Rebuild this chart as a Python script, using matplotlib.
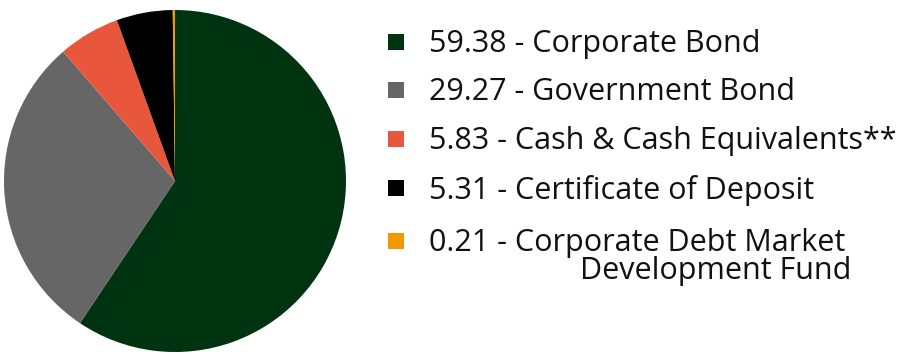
import matplotlib.pyplot as plt
from matplotlib.patches import Rectangle

# Data
labels = ["Corporate Bond", "Government Bond", "Cash & Cash Equivalents**",
          "Certificate of Deposit", "Corporate Debt Market\nDevelopment Fund"]
values = [59.38, 29.27, 5.83, 5.31, 0.21]
colors = ["#00330F", "#666666", "#E8573C", "#000000", "#F09A00"]

plt.rcParams["font.family"] = ["Open Sans", "DejaVu Sans"]

fig = plt.figure(figsize=(9.15, 3.6), dpi=100)
ax = fig.add_axes([0, 0, 1, 1])

# Pie, clockwise from 12 o'clock
ax.pie(values, colors=colors, startangle=90, counterclock=False,
       center=(175, 179), radius=171, frame=True,
       wedgeprops=dict(linewidth=0))
ax.set_xlim(0, 915)
ax.set_ylim(0, 360)
ax.set_aspect("equal")
ax.axis("off")

# Legend
row_y = [318, 270, 221, 172, 119]
for i, (lab, val, col) in enumerate(zip(labels, values, colors)):
    y = row_y[i]
    ax.add_patch(Rectangle((388, y - 8), 16, 16, color=col, lw=0))
    lines = lab.split("\n")
    ax.text(429, y - 2, f"{val:.2f} - {lines[0]}", fontsize=22, va="center",
            ha="left", color="#111111")
    if len(lines) > 1:
        ax.text(580, y - 30, lines[1], fontsize=22, va="center",
                ha="left", color="#111111")

fig.savefig("out.png", dpi=100)
